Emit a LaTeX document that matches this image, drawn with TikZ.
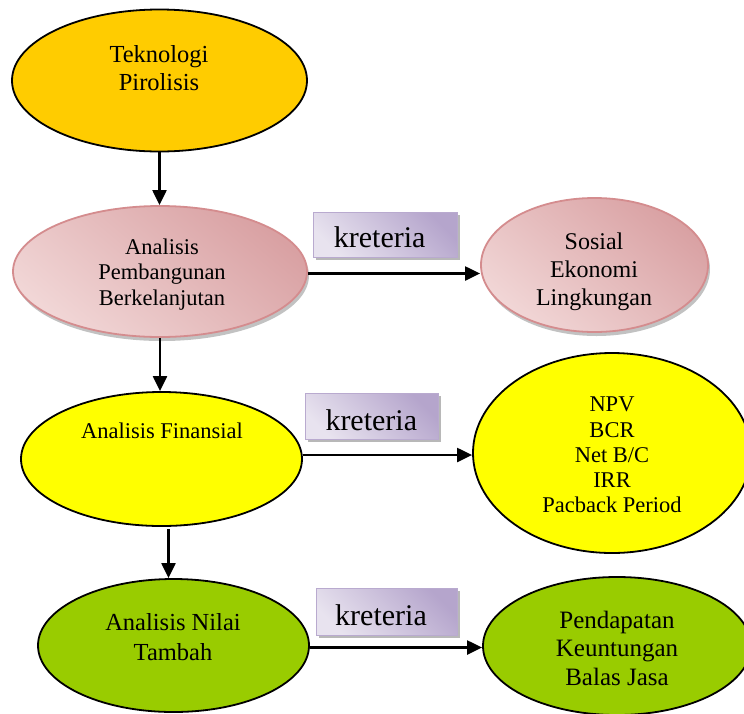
\documentclass[tikz,border=0pt]{standalone}
\usepackage{fontspec}
\setmainfont{Liberation Serif}
\usetikzlibrary{shapes.geometric,arrows.meta,shadows}
\definecolor{goldF}{HTML}{FFCC00}
\definecolor{yelF}{HTML}{FFFF00}
\definecolor{limeF}{HTML}{99CC00}
\definecolor{pinkL}{HTML}{F1D6D6}
\definecolor{pinkD}{HTML}{D9A1A3}
\definecolor{pinkB}{HTML}{D48C8E}
\definecolor{lavL}{HTML}{E8E3EF}
\definecolor{lavD}{HTML}{B5A5CC}
\definecolor{lavB}{HTML}{B9AACF}
\begin{document}
\begin{tikzpicture}[x=1pt,y=-1pt,
  oval/.style={ellipse, inner sep=0pt, line width=1.8pt, draw=black},
  pinkoval/.style={ellipse, inner sep=0pt, line width=1.8pt, draw=pinkB,
     top color=pinkD, bottom color=pinkL, shading angle=-40,
     drop shadow={shadow xshift=2pt, shadow yshift=-4pt, fill=black!40, opacity=.6}},
  kbox/.style={rectangle, inner sep=0pt, line width=1pt, draw=lavB,
     top color=lavD, bottom color=lavL, shading angle=-45,
     drop shadow={shadow xshift=3pt, shadow yshift=-3pt, fill=black!35, opacity=.8}},
  txt/.style={inner sep=0pt, align=center},
  ktxt/.style={inner sep=0pt, font=\fontsize{30}{34}\selectfont},
  arr/.style={line width=2.2pt, -{Triangle[length=15pt,width=14pt]}}
]
\useasboundingbox (0,0) rectangle (744,713);

% ellipses
\node[oval, fill=goldF, minimum width=295pt, minimum height=142pt] (e1) at (159.5,80.5) {};
\node[pinkoval, minimum width=294pt, minimum height=131pt] (e2) at (160,271.5) {};
\node[pinkoval, minimum width=227pt, minimum height=134pt] (s1) at (594.5,265) {};
\node[oval, fill=yelF, minimum width=281pt, minimum height=134pt] (e3) at (161.5,459) {};
\node[oval, fill=yelF, minimum width=278pt, minimum height=200pt] (npv) at (612,453) {};
\node[oval, fill=limeF, minimum width=271pt, minimum height=133pt] (e4) at (173.5,645.5) {};
\node[oval, fill=limeF, minimum width=268pt, minimum height=138pt] (e5) at (617,646) {};

% kreteria boxes
\node[kbox, minimum width=144pt, minimum height=45pt] (b1) at (385,234.5) {};
\node[kbox, minimum width=133pt, minimum height=46pt] (b2) at (371.5,416) {};
\node[kbox, minimum width=141pt, minimum height=47pt] (b3) at (386.5,611.5) {};

% texts
\node[txt, font=\fontsize{24.5}{28}\selectfont] (t1) at (159,67.7) {Teknologi\\Pirolisis};
\node[txt, font=\fontsize{22.5}{25.5}\selectfont] (t2) at (162,274.3) {Analisis\\Pembangunan\\Berkelanjutan};
\node[txt, font=\fontsize{22.5}{26}\selectfont] (t3) at (162,430.3) {Analisis Finansial};
\node[txt, font=\fontsize{24}{28}\selectfont] (t4) at (594,271.4) {Sosial\\Ekonomi\\Lingkungan};
\node[txt, font=\fontsize{22.5}{25.25}\selectfont] (t5) at (612,455) {NPV\\BCR\\Net B/C\\IRR\\Pacback Period};
\node[txt, font=\fontsize{24.5}{30}\selectfont] (t6) at (173,636.7) {Analisis Nilai\\Tambah};
\node[txt, font=\fontsize{25}{28.5}\selectfont] (t7) at (617,648) {Pendapatan\\Keuntungan\\Balas Jasa};
\node[ktxt] (k1) at (379.7,236.8) {kreteria};
\node[ktxt] (k2) at (371.3,419.8) {kreteria};
\node[ktxt] (k3) at (381,614.8) {kreteria};

% connectors
\draw[arr] (e1.south) -- (e1.south |- e2.north);
\draw[arr] (e2.south) -- (e2.south |- e3.north);
\draw[arr] ([xshift=7pt,yshift=-2pt]e3.south) -- ([xshift=7pt]e3.south |- e4.north);
\draw[arr] ([yshift=-2pt]e2.east) -- ([yshift=-2pt]e2.east -| s1.west);
\draw[arr] ([yshift=4pt]e3.east) -- ([yshift=4pt]e3.east -| npv.west);
\draw[arr] ([yshift=-2pt]e4.east) -- ([yshift=-2pt]e4.east -| e5.west);
\end{tikzpicture}
\end{document}
